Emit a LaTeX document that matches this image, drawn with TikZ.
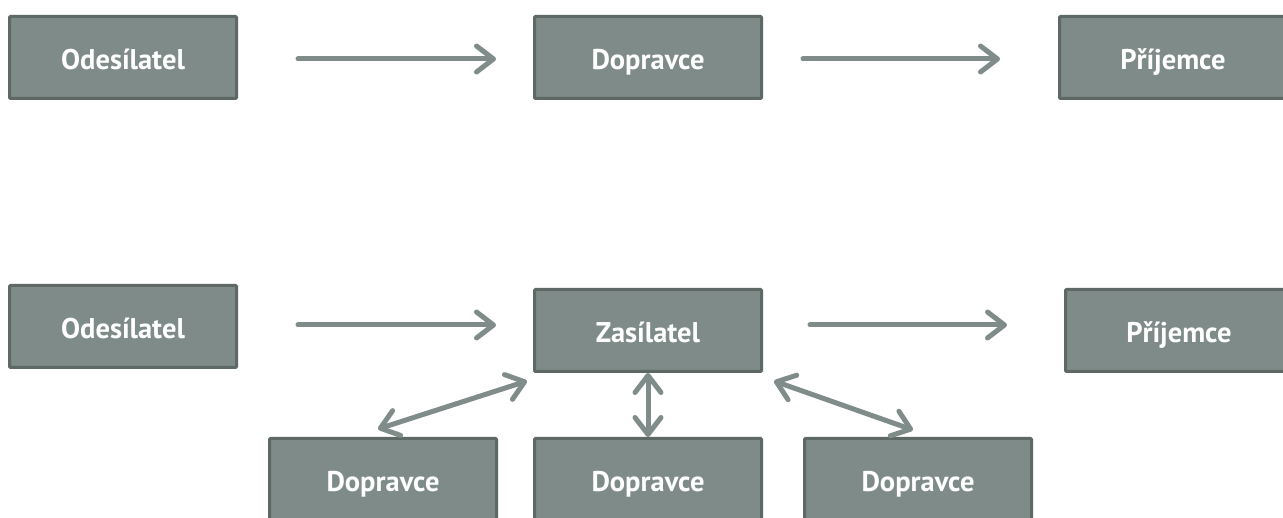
\documentclass[tikz,border=0pt]{standalone}
\usepackage{fontspec}
\setmainfont{PT Sans}
\usetikzlibrary{arrows.meta}
\definecolor{boxfill}{HTML}{7F8B88}
\definecolor{boxline}{HTML}{5E6865}
\definecolor{arrowcol}{HTML}{7F8C8A}
\tikzset{
  party/.style={draw=boxline, fill=boxfill, line width=3pt, rounded corners=1pt,
    minimum width=227pt, minimum height=82pt, inner sep=0pt,
    text height=26pt, text depth=2pt,
    text=white, font=\fontsize{28.5}{32}\selectfont\bfseries},
  flow/.style={draw=arrowcol, line width=5pt, line cap=round, line join=round,
    -{Straight Barb[length=17pt,width=26pt,line cap=round,line join=round]}},
  both/.style={flow, {Straight Barb[length=17pt,width=26pt,line cap=round,line join=round]}-{Straight Barb[length=17pt,width=26pt,line cap=round,line join=round]}}
}
\begin{document}
\begin{tikzpicture}[x=1pt,y=-1pt]
\useasboundingbox (0,0) rectangle (1283,518);
\clip (0,0) rectangle (1283,518);
\fill[white] (0,0) rectangle (1283,518);

% direct shipping
\node[party] (s1) at (123,57.5) {Odesílatel};
\node[party] (c1) at (648,57.5) {Dopravce};
\node[party] (r1) at (1173,57.5) {Příjemce};
\draw[flow, shorten <=60pt, shorten >=37pt] ([yshift=-1.5pt]s1.east) -- ([yshift=-1.5pt]c1.west);
\draw[flow, shorten <=40pt, shorten >=58pt] ([yshift=-1.5pt]c1.east) -- ([yshift=-1.5pt]r1.west);

% shipping through a forwarder
\node[party] (s2) at (123,326.5) {Odesílatel};
\node[party] (f)  at (648,330.5) {Zasílatel};
\node[party] (r2) at (1179,330.5) {Příjemce};
\draw[flow, shorten <=60pt, shorten >=37pt] ([yshift=1.5pt]s2.east) -- ([yshift=5.5pt]f.west);
\draw[flow, shorten <=47pt, shorten >=57pt] ([yshift=5.5pt]f.east) -- ([yshift=5.5pt]r2.west);

\node[party] (d1) at (383,479.5) {Dopravce};
\node[party] (d2) at (648,479.5) {Dopravce};
\node[party] (d3) at (918,479.5) {Dopravce};

\draw[both] ([shift={(-5,-8)}]d1.north) -- ([shift={(-6,8)}]f.south west);
\draw[both] (f.south) -- (d2.north);
\draw[both] ([shift={(11,8)}]f.south east) -- ([shift={(-5,-7)}]d3.north);
\end{tikzpicture}
\end{document}
